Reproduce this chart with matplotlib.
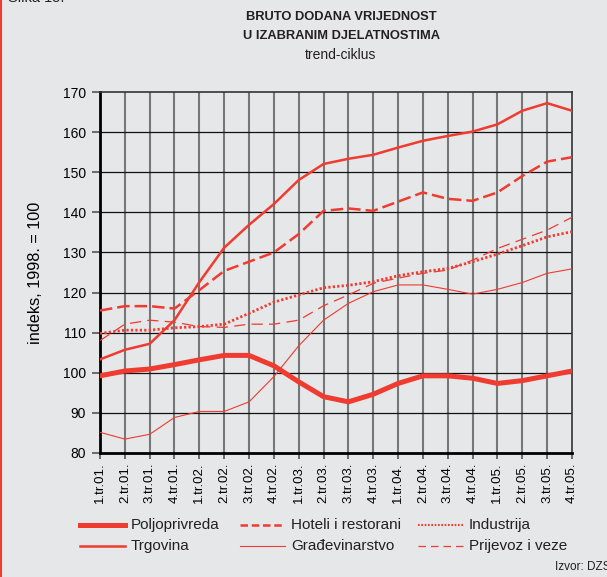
import matplotlib.pyplot as plt
from matplotlib.lines import Line2D

plt.rcParams['font.family'] = ['Liberation Sans', 'DejaVu Sans']

# quarters
quarters = ['1.tr.01.', '2.tr.01.', '3.tr.01.', '4.tr.01.',
            '1.tr.02.', '2.tr.02.', '3.tr.02.', '4.tr.02.',
            '1.tr.03.', '2.tr.03.', '3.tr.03.', '4.tr.03.',
            '1.tr.04.', '2.tr.04.', '3.tr.04.', '4.tr.04.',
            '1.tr.05.', '2.tr.05.', '3.tr.05.', '4.tr.05.']

# index values
poljoprivreda = [99.2, 100.4, 100.9, 102.0, 103.2, 104.3, 104.3, 101.7, 97.7, 94.0,
                 92.7, 94.6, 97.3, 99.2, 99.2, 98.6, 97.3, 98.0, 99.2, 100.4]
trgovina = [103.3, 105.7, 107.2, 113.1, 122.6, 131.2, 136.9, 142.1, 148.1, 152.1,
            153.4, 154.4, 156.2, 157.9, 159.1, 160.2, 162.0, 165.4, 167.3, 165.4]
hoteli = [115.5, 116.6, 116.6, 116.0, 120.6, 125.4, 127.7, 130.0, 134.6, 140.4,
          141.0, 140.4, 142.7, 145.0, 143.4, 142.9, 145.0, 149.1, 152.7, 153.8]
gradjevinarstvo = [85.1, 83.4, 84.6, 88.8, 90.3, 90.3, 92.7, 99.0, 106.7, 113.1,
                   117.3, 120.2, 121.9, 121.9, 120.8, 119.6, 120.8, 122.5, 124.8, 125.9]
industrija = [109.8, 110.6, 110.6, 111.2, 111.5, 112.1, 114.8, 117.6, 119.4, 121.2,
              121.8, 122.7, 124.2, 125.2, 126.0, 127.7, 129.6, 131.7, 133.9, 135.2]
prijevoz = [108.0, 112.1, 113.1, 112.6, 111.5, 111.3, 112.1, 112.1, 113.1, 116.7,
            119.4, 122.3, 123.6, 124.8, 125.6, 128.1, 131.0, 133.3, 135.6, 138.8]

labels = ['Poljoprivreda', 'Trgovina', 'Hoteli i restorani', 'Građevinarstvo',
          'Industrija', 'Prijevoz i veze']

red = '#ef3b30'
bg = '#e6e7e9'
W, H = 607, 577

# line styles per series (same order as labels)
styles = [
    dict(lw=3.6),
    dict(lw=1.8),
    dict(lw=1.8, dashes=(5, 2)),
    dict(lw=0.8),
    dict(lw=2.0, linestyle=(0, (0.8, 0.8))),
    dict(lw=0.9, dashes=(9, 5)),
]
series = [poljoprivreda, trgovina, hoteli, gradjevinarstvo, industrija, prijevoz]

fig = plt.figure(figsize=(6.07, 5.77), dpi=100, facecolor=bg)
ax = fig.add_axes([0.1647, 0.2154, 0.7776, 0.6246], facecolor=bg)

x = list(range(len(quarters)))
for i in [3, 5, 4, 2, 1, 0]:
    ax.plot(x, series[i], color=red, zorder=3, **styles[i])

ax.set_xlim(0, 19)
ax.set_ylim(80, 170)
ax.set_yticks(range(80, 171, 10))
ax.set_xticks(x)
ax.set_xticklabels(quarters, rotation=90, fontsize=9.5)
ax.tick_params(axis='y', labelsize=10, length=6, width=1.2, color='#555555', pad=4)
ax.tick_params(axis='x', length=4, width=1.2, color='#555555', pad=3)

for xi in x[1:-1]:
    ax.axvline(xi, color='#777777', lw=1.5, zorder=1)
for yv in range(90, 170, 10):
    ax.axhline(yv, color='#111111', lw=0.9, zorder=2)

for s in ['left', 'bottom']:
    ax.spines[s].set_linewidth(2.0)
for s in ['top', 'right']:
    ax.spines[s].set_linewidth(1.2)
    ax.spines[s].set_color('#333333')

ax.set_ylabel('indeks, 1998. = 100', fontsize=11.7, labelpad=14)

fig.text(341 / W, 1 - 17 / H, 'BRUTO DODANA VRIJEDNOST', ha='center', va='center',
         fontsize=9.3, fontweight='bold', color='#231f20')
fig.text(341 / W, 1 - 36 / H, 'U IZABRANIM DJELATNOSTIMA', ha='center', va='center',
         fontsize=9.3, fontweight='bold', color='#231f20')
fig.text(341 / W, 1 - 55 / H, 'trend-ciklus', ha='center', va='center', fontsize=10,
         color='#231f20')
fig.text(0.013, 1.003, 'Slika 15.', ha='left', va='center', fontsize=10.5,
         color='#231f20')
fig.text(1.005, 1 - 567 / H, 'Izvor: DZS', ha='right', va='center', fontsize=8.5,
         color='#231f20')

# left red border
fig.add_artist(Line2D([0.002, 0.002], [0, 1], color=red, lw=1.5,
                      transform=fig.transFigure))

# legend drawn by hand: 3 columns, 2 rows
col_x = [80, 240, 418]
row_y = [525, 546]
sample_styles = [dict(lw=3.6), dict(lw=1.8), dict(lw=1.8, dashes=(3, 1.5)),
                 dict(lw=0.8), dict(lw=1.5, linestyle=(0, (0.8, 0.8))),
                 dict(lw=0.9, dashes=(6, 4))]
for k, lab in enumerate(labels):
    c, r = k // 2, k % 2
    x0 = col_x[c]
    y0 = 1 - row_y[r] / H
    fig.add_artist(Line2D([x0 / W, (x0 + 45) / W], [y0, y0], color=red,
                          transform=fig.transFigure, **sample_styles[k]))
    fig.text((x0 + 51) / W, y0, lab, ha='left', va='center', fontsize=11,
             color='#231f20')

fig.savefig('out.png', dpi=100, facecolor=bg)
